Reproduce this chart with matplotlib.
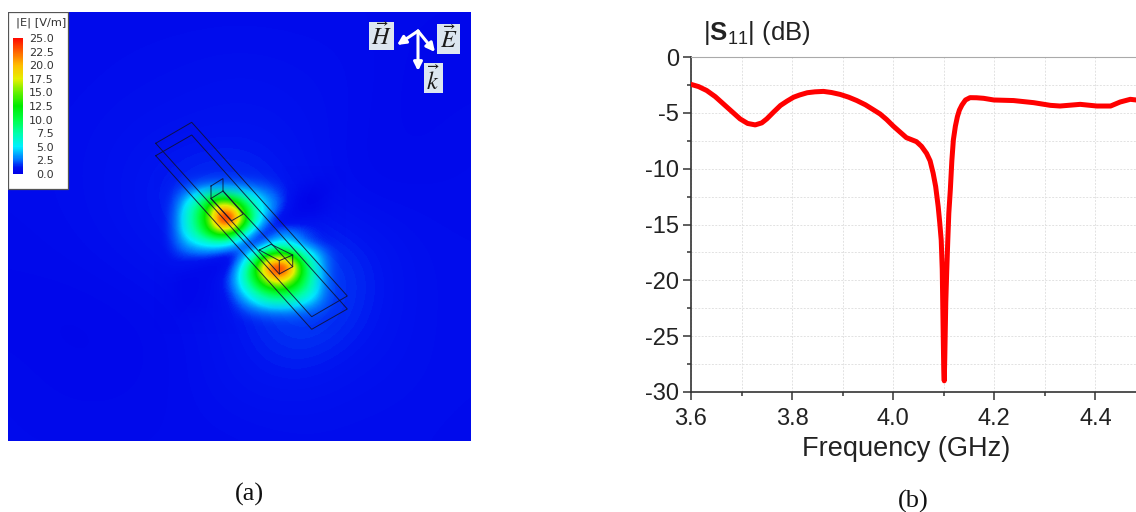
import numpy as np
import matplotlib
matplotlib.use('Agg')
import matplotlib.pyplot as plt
from matplotlib.colors import LinearSegmentedColormap
from matplotlib.patches import Rectangle

plt.rcParams['font.family'] = ['Liberation Sans', 'DejaVu Sans']
plt.rcParams['mathtext.fontset'] = 'custom'
plt.rcParams['mathtext.rm'] = 'Liberation Sans'
plt.rcParams['mathtext.bf'] = 'Liberation Sans:bold'
plt.rcParams['mathtext.it'] = 'Liberation Sans:italic'

W, H = 1136, 512

# ---------- field |E|: a coarse sampling of the whole image ...
bg_x = [8, 66, 124, 182, 240, 298, 356, 414, 472]
bg_y = [12, 73, 134, 195, 256, 317, 378, 439]
bg_e = [
 [.7, .7, .7, .7, .7, .7, .7, .6, .6],
 [.7, .7, .8, .9, 1.0, .9, .8, .5, .5],
 [.7, .8, 1.0, 1.1, 1.2, 1.1, .7, .5, .7],
 [.7, .8, 1.1, 1.8, 2.0, 1.2, .6, .7, .7],
 [.6, .7, .9, 1.2, 1.5, 2.0, 1.7, .9, .8],
 [.5, .4, .5, .7, 1.3, 2.2, 1.6, .9, .8],
 [.7, .5, .5, .7, 1.2, 1.3, 1.0, .9, .8],
 [.7, .7, .7, .7, .7, .8, .8, .8, .7],
]
# ... and a finer sampling of the two lobes
lobe_x = [160, 172, 184, 196, 208, 220, 232, 244, 256, 268, 280, 292, 304, 316, 328, 340]
lobe_y = [172, 184, 196, 208, 220, 232, 244, 256, 268, 280, 292, 304, 316, 328]
lobe_e = [
 [1.1, 1.3, 1.5, 1.8, 2.1, 2.3, 2.2, 2.1, 1.9, 1.6, 1.3, 1.0, .7, .4, .2, .3],
 [1.2, 1.5, 2.0, 2.8, 3.6, 4.0, 3.8, 3.3, 2.8, 2.2, 1.6, 1.1, .6, .3, .3, .4],
 [1.3, 1.9, 3.2, 5.5, 8.5, 10, 9.0, 7.0, 5.0, 3.2, 2.0, 1.0, .35, .3, .4, .5],
 [1.4, 2.6, 5.0, 8.5, 13, 21, 20, 12, 7.0, 4.0, 2.0, .7, .3, .4, .6, .7],
 [1.4, 3.0, 5.5, 9.0, 14, 26, 26, 15, 7.0, 2.5, .5, .6, .9, 1.0, 1.0, .9],
 [1.3, 3.0, 5.0, 8.0, 11.5, 15.5, 14, 7.5, 2.5, .7, 2.4, 2.6, 2.0, 1.5, 1.2, 1.0],
 [1.2, 2.4, 3.3, 4.6, 5.5, 5.5, 4.0, 1.6, .5, 3.5, 5.5, 4.6, 2.6, 1.8, 1.4, 1.1],
 [1.1, 1.5, 1.7, 1.7, 1.5, .9, .6, 3.0, 8.5, 13.5, 16, 13, 8.0, 5.0, 3.4, 2.2],
 [.8, 1.0, .9, .7, .5, .6, 1.6, 6.5, 13, 24, 27, 22, 11, 6.0, 3.8, 2.4],
 [.6, .6, .5, .5, .7, 1.0, 2.5, 7.0, 11.5, 17, 20, 15.5, 10, 6.0, 3.5, 2.3],
 [.5, .5, .5, .55, .7, 1.0, 1.9, 4.8, 7.8, 10, 11, 10, 8.0, 5.2, 3.3, 2.2],
 [.5, .5, .55, .6, .8, 1.0, 1.4, 2.6, 4.4, 5.8, 6.2, 5.8, 4.6, 3.2, 2.4, 1.8],
 [.5, .55, .6, .7, .8, 1.0, 1.3, 1.8, 2.4, 2.8, 3.0, 2.9, 2.5, 2.1, 1.7, 1.4],
 [.55, .6, .65, .7, .8, .9, 1.1, 1.3, 1.6, 1.8, 1.9, 1.9, 1.7, 1.5, 1.3, 1.2],
]
cbar_ticks = [0, 2.5, 5, 7.5, 10, 12.5, 15, 17.5, 20, 22.5, 25]

# wireframe outlines, in the same pixel positions
plate_top = [(155.7, 143.3), (191.7, 122.3), (347.3, 296), (311.7, 316.7), (155.7, 143.3)]
plate_bottom = [(155.7, 155.7), (191.7, 135), (347.3, 309), (311.7, 329.3), (155.7, 155.7)]
feed_a = [(211, 186), (223, 178.5), (223, 191), (211, 198.5), (211, 186)]
feed_b = [(223, 191), (243.3, 214), (231.7, 220.7), (211, 198.5)]
feed_c = [(259.3, 250), (271, 244.3), (292.7, 255), (292.7, 266.7), (279.3, 274), (279.3, 260.7), (259.3, 250)]
feed_d = [(279.3, 260.7), (292.7, 255)]
feed_f = [(223, 191), (292.7, 266.7)]
feed_g = [(211, 198.5), (279.3, 274)]

# ---------- |S11| curve of panel (b)
freq = [3.600, 3.615, 3.631, 3.648, 3.664, 3.680, 3.697, 3.712, 3.727, 3.740, 3.750, 3.763, 3.777, 3.790, 3.803,
        3.815, 3.830, 3.845, 3.862, 3.878, 3.895, 3.912, 3.928, 3.945, 3.961, 3.974, 3.987, 4.000, 4.013, 4.026,
        4.036, 4.046, 4.056, 4.066, 4.073, 4.079, 4.084, 4.089, 4.092, 4.095, 4.097, 4.098, 4.099, 4.100, 4.101,
        4.102, 4.103, 4.104, 4.106, 4.108, 4.110, 4.113, 4.116, 4.119, 4.123, 4.127, 4.131, 4.136, 4.143, 4.152,
        4.165, 4.179, 4.199, 4.238, 4.278, 4.311, 4.330, 4.370, 4.403, 4.430, 4.449, 4.469, 4.481]
s11 = [-2.45, -2.65, -3.0, -3.55, -4.2, -4.85, -5.54, -5.95, -6.08, -5.9, -5.54, -4.95, -4.34, -3.95, -3.6,
       -3.4, -3.2, -3.12, -3.08, -3.18, -3.35, -3.6, -3.9, -4.28, -4.73, -5.1, -5.6, -6.18, -6.7, -7.22,
       -7.4, -7.58, -8.0, -8.63, -9.3, -10.4, -11.6, -13.4, -14.8, -16.4, -19.0, -22.0, -25.0, -28.0, -29.0,
       -27.0, -24.5, -22.0, -19.0, -16.4, -14.0, -11.9, -9.3, -7.43, -6.2, -5.34, -4.75, -4.3, -3.85, -3.64,
       -3.65, -3.7, -3.85, -3.9, -4.09, -4.33, -4.39, -4.24, -4.39, -4.39, -4.03, -3.79, -3.85]
x_major = [3.6, 3.8, 4.0, 4.2, 4.4]
x_minor = [3.7, 3.9, 4.1, 4.3]
y_major = [0, -5, -10, -15, -20, -25, -30]
y_minor = [-2.5, -7.5, -12.5, -17.5, -22.5, -27.5]

fig = plt.figure(figsize=(W / 100, H / 100), dpi=100, facecolor='white')


def axes_px(x0, y0, x1, y1, **kw):
    return fig.add_axes([x0 / W, 1 - y1 / H, (x1 - x0) / W, (y1 - y0) / H], **kw)


def cell_extent(xs, ys):
    dx = (xs[1] - xs[0]) / 2
    dy = (ys[1] - ys[0]) / 2
    return (xs[0] - dx, xs[-1] + dx, ys[-1] + dy, ys[0] - dy)


cmap = LinearSegmentedColormap.from_list('field', [
    (0.0, (0, 0, 232 / 255)), (0.05, (0, 20 / 255, 240 / 255)), (0.1, (0, 110 / 255, 1)), (0.2, (0, 240 / 255, 1)),
    (0.3, (0, 1, 170 / 255)), (0.4, (0, 1, 70 / 255)), (0.5, (0, 235 / 255, 0)),
    (0.6, (100 / 255, 240 / 255, 0)), (0.7, (230 / 255, 240 / 255, 0)), (0.8, (1, 190 / 255, 0)),
    (0.9, (1, 100 / 255, 0)), (1.0, (1, 10 / 255, 0))])

# ---------- panel (a)
ax = axes_px(8, 12, 471, 441)
ax.imshow(np.array(bg_e), cmap=cmap, vmin=0, vmax=25, extent=cell_extent(bg_x, bg_y),
          interpolation='bicubic', aspect='auto', zorder=1)
# the fine sampling fades out over its two outer rings so that no seam shows
lobe_alpha = np.ones((len(lobe_y), len(lobe_x)))
lobe_alpha[[1, -2], 1:-1] = .5
lobe_alpha[1:-1, [1, -2]] = .5
lobe_alpha[[0, -1], :] = 0
lobe_alpha[:, [0, -1]] = 0
mesh = ax.imshow(np.array(lobe_e), cmap=cmap, vmin=0, vmax=25, extent=cell_extent(lobe_x, lobe_y),
                 interpolation='bicubic', aspect='auto', alpha=lobe_alpha, zorder=2)
ax.set_xlim(8, 471)
ax.set_ylim(441, 12)
ax.axis('off')
for pts in (plate_top, plate_bottom, feed_a, feed_b, feed_c, feed_d, feed_f, feed_g):
    xs, ys = zip(*pts)
    ax.plot(xs, ys, color='#101030', lw=0.7, alpha=.85, solid_joinstyle='miter', zorder=3)

ax.add_patch(Rectangle((8, 12), 60, 177, fc='white', ec='#555555', lw=0.9, zorder=4))
ax.text(41, 23, '|E| [V/m]', fontsize=8.2, family='DejaVu Sans', color='#333333',
        ha='center', va='center', zorder=5)

cax = axes_px(13, 38, 23, 174)
sm = plt.cm.ScalarMappable(norm=plt.Normalize(0, 25), cmap=cmap)
cb = fig.colorbar(sm, cax=cax, ticks=cbar_ticks)
cb.outline.set_visible(False)
cb.set_ticklabels([f'{t:.1f}' for t in cbar_ticks])
cax.tick_params(length=0, pad=22, labelsize=8, labelcolor='#333333')
for lab in cax.get_yticklabels():
    lab.set_ha('right')
    lab.set_family('DejaVu Sans')

for tip in [(397, 45), (435, 52), (418, 71)]:
    ax.annotate('', xy=tip, xytext=(418, 31),
                arrowprops=dict(arrowstyle='-|>,head_width=0.25,head_length=0.5', color='white', lw=2.2,
                                shrinkA=0, shrinkB=0), zorder=6)
for (x0, x1, y0, y1, lab, dy) in [(369, 394, 22, 50, r'$\vec{H}$', 0), (437, 460, 24, 54, r'$\vec{E}$', 0),
                                  (424, 443, 63, 93, r'$\vec{k}$', 2)]:
    ax.add_patch(Rectangle((x0, y0), x1 - x0, y1 - y0, fc='#dce6f0', ec='none', zorder=6))
    ax.text((x0 + x1) / 2, (y0 + y1) / 2 + dy, lab, fontsize=17.5, color='#1a1a1a', ha='center', va='center',
            math_fontfamily='stix', zorder=7)

fig.text(249 / W, 1 - 494 / H, '(a)', family='Liberation Serif', fontsize=19, ha='center', va='center', color='#111111')
fig.text(913 / W, 1 - 501 / H, '(b)', family='Liberation Serif', fontsize=19, ha='center', va='center', color='#111111')

# ---------- panel (b)
bx = axes_px(691, 57, 1136, 392)
bx.plot(freq, s11, color='#ff0000', lw=3.6, solid_capstyle='round', solid_joinstyle='round', zorder=3)
bx.set_xlim(3.6, 3.6 + 0.2 * 445 / 101.1)
bx.set_ylim(-30, 0)
bx.set_xticks(x_major)
bx.set_xticklabels([f'{v:.1f}' for v in x_major])
bx.set_xticks(x_minor, minor=True)
bx.set_yticks(y_major)
bx.set_yticklabels([str(v) for v in y_major])
bx.set_yticks(y_minor, minor=True)
bx.grid(True, which='both', color='#e2e2e2', lw=0.7, ls=(0, (2, 1.5)))
bx.set_axisbelow(True)
bx.tick_params(axis='x', which='major', length=5.5, width=1.1, color='#333333', labelsize=17, labelcolor='#222222', pad=6)
bx.tick_params(axis='y', which='major', length=5.5, width=1.1, color='#333333', labelsize=17, labelcolor='#222222', pad=3)
bx.tick_params(which='minor', length=3, width=1.1, color='#333333')
bx.spines['right'].set_visible(False)
bx.spines['top'].set_color('#aaaaaa')
bx.spines['left'].set_color('#333333')
bx.spines['bottom'].set_color('#333333')
bx.spines['left'].set_linewidth(1.2)
bx.spines['bottom'].set_linewidth(1.2)
bx.set_xlabel('Frequency (GHz)', fontsize=19.5, color='#222222')
bx.xaxis.set_label_coords((906 - 691) / 445, -(449 - 392) / 335)
bx.xaxis.label.set_va('center')
fig.text(703 / W, 1 - 40 / H, r'|$\mathbf{S}_{\mathrm{11}}$| (dB)', fontsize=18.5, color='#222222', ha='left', va='baseline')

fig.savefig('out.png', dpi=100, facecolor='white')
